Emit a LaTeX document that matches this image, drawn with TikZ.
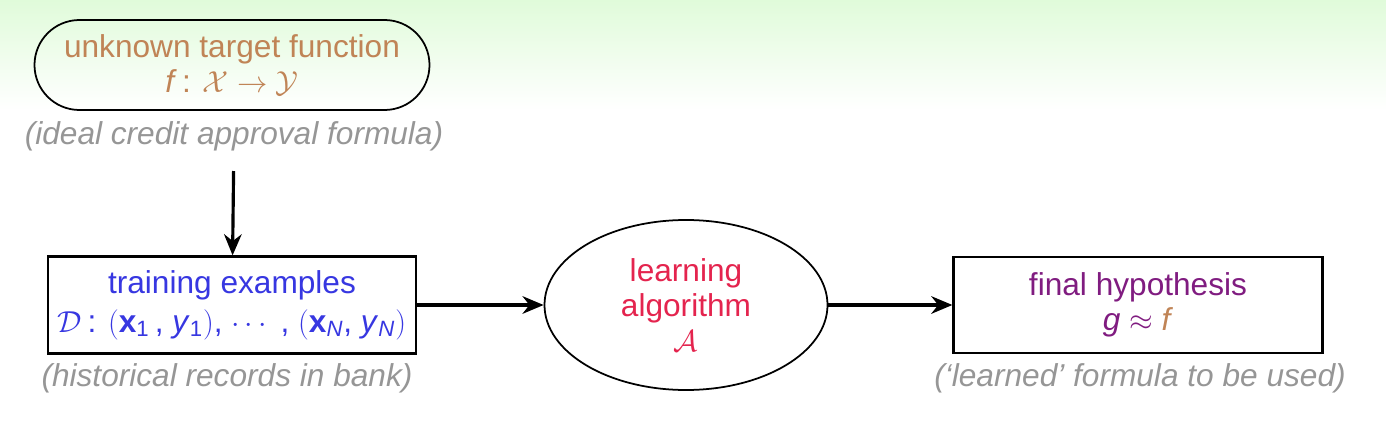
\documentclass[tikz,border=0pt]{standalone}
\usepackage{amsmath}
\usepackage{fontspec}
\setmainfont{Liberation Sans}
\usetikzlibrary{shapes.geometric,arrows.meta}

\definecolor{fondo}{RGB}{224,251,218}
\definecolor{marron}{RGB}{192,132,86}
\definecolor{gris}{RGB}{150,150,150}
\definecolor{azul}{RGB}{55,55,225}
\definecolor{rojo}{RGB}{228,36,78}
\definecolor{morado}{RGB}{128,28,128}

\begin{document}
\begin{tikzpicture}[
    caja/.style={draw, line width=1.3pt, minimum width=7.36cm, minimum height=1.94cm, align=center},
    nota/.style={gris, font=\fontsize{18}{22}\selectfont\itshape},
    flecha/.style={-{Stealth[length=12pt,width=10pt]}, line width=1.8pt},
    font=\fontsize{18}{22}\selectfont
]
    % Fondo
    \useasboundingbox (0,0) rectangle (27.72,8.8);
    \shade[top color=fondo, bottom color=white] (0,6.6) rectangle (27.72,8.8);

    % Funcion objetivo
    \node[draw, line width=1pt, rounded corners=0.9cm, minimum width=7.9cm, minimum height=1.8cm,
          align=center, text=marron] (objetivo) at (4.64,7.5)
        {unknown target function\\[-2pt] \textit{f}\,: $\mathcal{X}\rightarrow\mathcal{Y}$};
    \node[nota] (ideal) at (4.68,6.08) {(ideal credit approval formula)};

    % Ejemplos
    \node[caja, text=azul] (ejemplos) at (4.64,2.7)
        {training examples\\[0pt] $\mathcal{D}$\,: $($\textbf{x}$_{\text{1}}$\,, \textit{y}$_{\text{1}})$, $\cdots$ , $($\textbf{x}$_{\textit{N}}$, \textit{y}$_{\textit{N}})$};
    \node[nota] (historial) at (4.54,1.24) {(historical records in bank)};

    % Algoritmo
    \node[draw, line width=1pt, ellipse, minimum width=5.66cm, minimum height=3.4cm,
          align=center, text=rojo] (algoritmo) at (13.72,2.7)
        {learning\\[-2pt] algorithm\\[-2pt] $\mathcal{A}$};

    % Hipotesis
    \node[caja, minimum width=7.38cm, minimum height=1.92cm, text=morado] (hipotesis) at (22.76,2.7)
        {final hypothesis\\[-2pt] \textit{g} $\approx$ \textcolor{marron}{\textit{f}}};
    \node[nota] (aprendida) at (22.8,1.24) {(`learned' formula to be used)};

    % Flechas
    \draw[flecha, shorten <=8pt] (ideal) -- (ejemplos);
    \draw[flecha] (ejemplos) -- (algoritmo);
    \draw[flecha] (algoritmo) -- (hipotesis);

\end{tikzpicture}
\end{document}
